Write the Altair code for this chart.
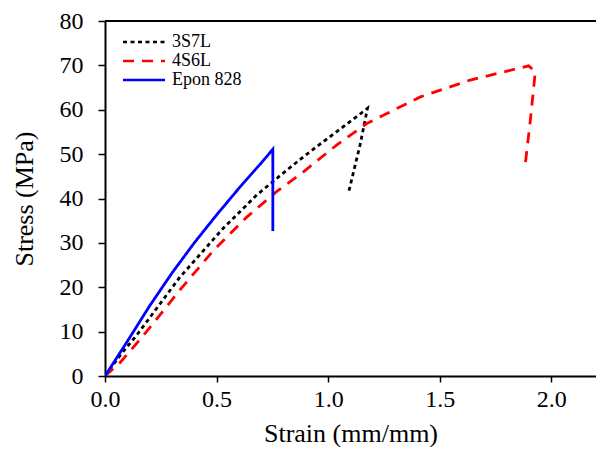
import altair as alt
import pandas as pd

# Data
s1_name = "3S7L"
s1_x = [0.0, 0.067, 0.142, 0.336, 0.530, 0.680, 0.815, 0.889, 1.039, 1.176, 1.143, 1.091]
s1_y = [0.0, 4.6, 9.2, 22.3, 33.3, 40.8, 46.4, 49.4, 55.1, 60.3, 52.1, 41.3]

s2_name = "4S6L"
s2_x = [0.0, 0.067, 0.17, 0.336, 0.486, 0.635, 0.770, 0.889, 1.039, 1.173, 1.413, 1.637, 1.801, 1.898, 1.928, 1.906, 1.880]
s2_y = [0.0, 3.0, 9.0, 19.4, 28.3, 35.8, 41.6, 46.0, 52.1, 56.9, 62.9, 66.7, 68.7, 69.9, 68.6, 57.7, 46.4]

s3_name = "Epon 828"
s3_x = [0.0, 0.1, 0.2, 0.3, 0.4, 0.5, 0.6, 0.7, 0.752, 0.752]
s3_y = [0.0, 7.8, 15.8, 23.2, 30.0, 36.3, 42.3, 48.0, 51.1, 32.7]

series = [(s1_name, s1_x, s1_y), (s2_name, s2_x, s2_y), (s3_name, s3_x, s3_y)]
rows = []
for name, xs, ys in series:
    for i, (a, b) in enumerate(zip(xs, ys)):
        rows.append({"series": name, "i": i, "strain": a, "stress": b})
df = pd.DataFrame(rows)

names = [s1_name, s2_name, s3_name]
colors = ["#000000", "#ff0000", "#0000ff"]
dashes = [[4, 3.5], [11, 8], [1, 0]]

FONT = "Liberation Serif, Times New Roman, DejaVu Serif, serif"

x_scale = alt.Scale(domain=[0, 2.2], nice=False, zero=False)
y_scale = alt.Scale(domain=[0, 80], nice=False)

lines = alt.Chart(df).mark_line(strokeWidth=2.8, clip=True).encode(
    x=alt.X("strain:Q", scale=x_scale,
            axis=alt.Axis(title="Strain (mm/mm)", values=[0, 0.5, 1.0, 1.5, 2.0], format=".1f",
                          grid=False, domainColor="black", domainWidth=2, tickColor="black",
                          tickWidth=1.5, tickSize=6, labelFont=FONT, labelFontSize=24,
                          labelFlush=False, labelOverlap=False,
                          labelColor="black", labelPadding=5, titleFont=FONT, titleFontSize=26,
                          titleFontWeight="normal", titleColor="black", titlePadding=9)),
    y=alt.Y("stress:Q", scale=y_scale,
            axis=alt.Axis(title="Stress (MPa)", values=list(range(0, 81, 10)),
                          grid=False, domainColor="black", domainWidth=2, tickColor="black",
                          tickWidth=1.5, tickSize=7, labelFont=FONT, labelFontSize=24,
                          labelFlush=False, labelOverlap=False,
                          labelColor="black", labelPadding=15, titleFont=FONT, titleFontSize=26,
                          titleFontWeight="normal", titleColor="black", titlePadding=22)),
    color=alt.Color("series:N", scale=alt.Scale(domain=names, range=colors),
                    legend=alt.Legend(title=None, orient="none", legendX=30, legendY=12,
                                      symbolType="M-3,0H3", symbolStrokeWidth=2.6,
                                      symbolSize=196, labelFont=FONT, labelFontSize=18,
                                      labelColor="black", rowPadding=1, labelOffset=19)),
    strokeDash=alt.StrokeDash("series:N", scale=alt.Scale(domain=names, range=dashes), legend=None),
    order="i:Q",
)

top = alt.Chart(pd.DataFrame({"v": [80]})).mark_rule(color="black", strokeWidth=2).encode(
    y=alt.Y("v:Q", scale=y_scale),
    x=alt.value(0), x2=alt.value(491),
)

chart = alt.layer(lines, top).properties(
    width=491, height=355,
    autosize=alt.AutoSizeParams(type="none"),
    padding={"left": 97, "top": 13, "right": 0, "bottom": 71},
).configure(font=FONT).configure_axis(labelFont=FONT, titleFont=FONT).configure_view(stroke=None)

chart.save("out.html", embed_options={"renderer": "svg", "actions": False})
